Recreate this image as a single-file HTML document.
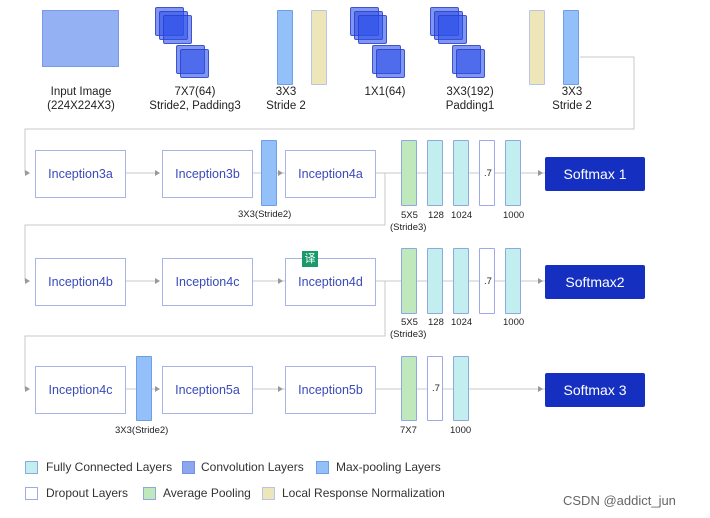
<!DOCTYPE html>
<html><head><style>
body{margin:0;width:710px;height:518px;background:#fff;position:relative;overflow:hidden;font-family:"Liberation Sans","Noto Sans CJK SC",sans-serif;}
.a{position:absolute;box-sizing:border-box;}
.sq{position:absolute;width:27px;height:27px;background:rgba(45,80,232,0.6);border:1px solid rgba(40,60,200,0.75);border-radius:2px;}
.bar{position:absolute;width:16px;border-radius:1px;box-sizing:border-box;}
.mp{background:#93c0f8;border:1px solid #6f9ee8;}
.lrn{background:#ede6b8;border:1px solid #b9c4e8;}
.ap{background:#bfe8bd;border:1px solid #8fa8e0;}
.fc{background:#c3eef0;border:1px solid #8fa8e0;}
.dp{background:#fff;border:1px solid #9fa8e8;}
.box{position:absolute;width:91px;height:48px;border:1px solid #a8b4e6;background:#fff;color:#3a4ab8;font-size:12.5px;display:flex;align-items:center;justify-content:center;box-sizing:border-box;}
.sm{position:absolute;left:545px;width:100px;height:34px;background:#1530c0;color:#fff;font-size:14px;display:flex;align-items:center;justify-content:center;border-radius:2px;}
.t{position:absolute;font-size:11.5px;color:#222;text-align:center;line-height:14px;white-space:nowrap;}
.s{position:absolute;font-size:9.5px;color:#222;white-space:nowrap;line-height:12px;}
.lg{position:absolute;width:13px;height:13px;box-sizing:border-box;}
.lt{position:absolute;font-size:12px;color:#333;white-space:nowrap;}
</style></head><body>
<svg class="a" style="left:0;top:0" width="710" height="518">
<g stroke="#c8c8c8" fill="none" stroke-width="1">
<path d="M580 57H634V129H25V173"/>
<path d="M376 173H385V225H25V281"/>
<path d="M376 281H385V336H25V389"/>
<path d="M126 173H156M253 173H285M376 173H545"/>
<path d="M126 281H156M253 281H285M376 281H545"/>
<path d="M126 389H156M253 389H285M376 389H545"/>
</g>
<g fill="#999">
<path d="M30 173l-5-3v6z"/><path d="M30 281l-5-3v6z"/><path d="M30 389l-5-3v6z"/>
<path d="M160 173l-5-3v6z"/><path d="M283 173l-5-3v6z"/><path d="M543 173l-5-3v6z"/>
<path d="M160 281l-5-3v6z"/><path d="M283 281l-5-3v6z"/><path d="M543 281l-5-3v6z"/>
<path d="M160 389l-5-3v6z"/><path d="M283 389l-5-3v6z"/><path d="M543 389l-5-3v6z"/>
</g></svg>
<div class="a" style="left:42px;top:10px;width:77px;height:57px;background:#94b1f4;border:1px solid #7b98e8;"></div>
<div class="sq" style="left:155px;top:7px"></div><div class="sq" style="left:159px;top:11px"></div><div class="sq" style="left:163px;top:15px"></div>
<div class="sq" style="left:176px;top:45px"></div><div class="sq" style="left:180px;top:49px"></div>
<div class="sq" style="left:350px;top:7px"></div><div class="sq" style="left:354px;top:11px"></div><div class="sq" style="left:358px;top:15px"></div>
<div class="sq" style="left:372px;top:45px"></div><div class="sq" style="left:376px;top:49px"></div>
<div class="sq" style="left:430px;top:7px"></div><div class="sq" style="left:434px;top:11px"></div><div class="sq" style="left:438px;top:15px"></div>
<div class="sq" style="left:452px;top:45px"></div><div class="sq" style="left:456px;top:49px"></div>
<div class="bar mp" style="left:277px;top:10px;height:75px"></div>
<div class="bar lrn" style="left:311px;top:10px;height:75px"></div>
<div class="bar lrn" style="left:529px;top:10px;height:75px"></div>
<div class="bar mp" style="left:563px;top:10px;height:75px"></div>
<div class="t" style="left:40px;top:85px;width:82px">Input Image<br>(224X224X3)</div>
<div class="t" style="left:140px;top:85px;width:110px">7X7(64)<br>Stride2, Padding3</div>
<div class="t" style="left:264px;top:85px;width:44px">3X3<br>Stride 2</div>
<div class="t" style="left:360px;top:85px;width:50px">1X1(64)</div>
<div class="t" style="left:440px;top:85px;width:60px">3X3(192)<br>Padding1</div>
<div class="t" style="left:545px;top:85px;width:54px">3X3<br>Stride 2</div>

<div class="box" style="left:35px;top:150px">Inception3a</div>
<div class="box" style="left:162px;top:150px">Inception3b</div>
<div class="bar mp" style="left:261px;top:140px;height:66px"></div>
<div class="box" style="left:285px;top:150px">Inception4a</div>
<div class="bar ap" style="left:401px;top:140px;height:66px"></div>
<div class="bar fc" style="left:427px;top:140px;height:66px"></div>
<div class="bar fc" style="left:453px;top:140px;height:66px"></div>
<div class="bar dp" style="left:479px;top:140px;height:66px"><span class="s" style="left:4px;top:27px">.7</span></div>
<div class="bar fc" style="left:505px;top:140px;height:66px"></div>
<div class="sm" style="top:157px">Softmax 1</div>
<div class="s" style="left:238px;top:209px">3X3(Stride2)</div>
<div class="s" style="left:401px;top:210px">5X5</div><div class="s" style="left:390px;top:222px">(Stride3)</div>
<div class="s" style="left:428px;top:210px">128</div><div class="s" style="left:451px;top:210px">1024</div><div class="s" style="left:503px;top:210px">1000</div>

<div class="box" style="left:35px;top:258px">Inception4b</div>
<div class="box" style="left:162px;top:258px">Inception4c</div>
<div class="box" style="left:285px;top:258px">Inception4d</div>
<div class="a" style="left:302px;top:251px;width:16px;height:16px;background:#1a9a6a;color:#fff;font-size:11px;text-align:center;line-height:16px">译</div>
<div class="bar ap" style="left:401px;top:248px;height:66px"></div>
<div class="bar fc" style="left:427px;top:248px;height:66px"></div>
<div class="bar fc" style="left:453px;top:248px;height:66px"></div>
<div class="bar dp" style="left:479px;top:248px;height:66px"><span class="s" style="left:4px;top:27px">.7</span></div>
<div class="bar fc" style="left:505px;top:248px;height:66px"></div>
<div class="sm" style="top:265px">Softmax2</div>
<div class="s" style="left:401px;top:317px">5X5</div><div class="s" style="left:390px;top:329px">(Stride3)</div>
<div class="s" style="left:428px;top:317px">128</div><div class="s" style="left:451px;top:317px">1024</div><div class="s" style="left:503px;top:317px">1000</div>

<div class="box" style="left:35px;top:366px">Inception4c</div>
<div class="bar mp" style="left:136px;top:356px;height:65px"></div>
<div class="box" style="left:162px;top:366px">Inception5a</div>
<div class="box" style="left:285px;top:366px">Inception5b</div>
<div class="bar ap" style="left:401px;top:356px;height:65px"></div>
<div class="bar dp" style="left:427px;top:356px;height:65px"><span class="s" style="left:4px;top:26px">.7</span></div>
<div class="bar fc" style="left:453px;top:356px;height:65px"></div>
<div class="sm" style="top:373px">Softmax 3</div>
<div class="s" style="left:115px;top:425px">3X3(Stride2)</div>
<div class="s" style="left:400px;top:425px">7X7</div><div class="s" style="left:450px;top:425px">1000</div>

<div class="lg fc" style="left:25px;top:461px"></div><div class="lt" style="left:46px;top:460px">Fully Connected Layers</div>
<div class="lg" style="left:182px;top:461px;background:#8ca6f0;border:1px solid #7a90e0"></div><div class="lt" style="left:201px;top:460px">Convolution Layers</div>
<div class="lg mp" style="left:316px;top:461px"></div><div class="lt" style="left:336px;top:460px">Max-pooling Layers</div>
<div class="lg dp" style="left:25px;top:487px"></div><div class="lt" style="left:46px;top:486px">Dropout Layers</div>
<div class="lg ap" style="left:143px;top:487px"></div><div class="lt" style="left:163px;top:486px">Average Pooling</div>
<div class="lg lrn" style="left:262px;top:487px"></div><div class="lt" style="left:282px;top:486px">Local Response Normalization</div>
<div class="lt" style="left:563px;top:493px;font-size:13px;color:#666">CSDN @addict_jun</div>
</body></html>
